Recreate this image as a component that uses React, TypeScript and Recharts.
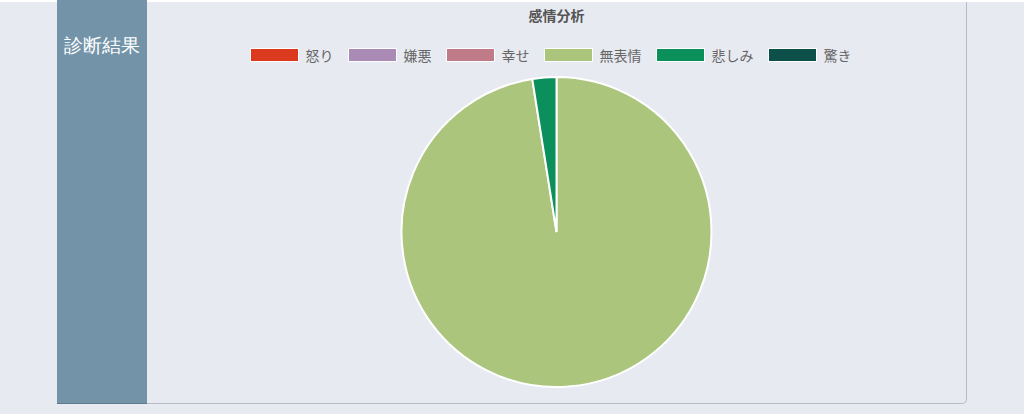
import React from 'react';
import { PieChart, Pie, Cell } from 'recharts';

// 感情分析 data
const emotions = ['怒り', '嫌悪', '幸せ', '無表情', '悲しみ', '驚き'];
const shares = [0, 0, 0, 97.5, 2.5, 0];
const colors = ['#dc3a1e', '#a98bb5', '#c07b89', '#abc57c', '#0b8f5b', '#0d504a'];

const data = emotions.map((name, i) => ({ name, value: shares[i] }));

const FONT = '"Noto Sans CJK JP", "Noto Sans", sans-serif';

const LegendRow: React.FC = () => (
    <div
        style={{
            position: 'absolute',
            left: 0,
            top: 45,
            width: 819,
            display: 'flex',
            justifyContent: 'center',
            paddingRight: 12,
            boxSizing: 'border-box',
            fontFamily: FONT,
        }}
    >
        {emotions.map((name, i) => (
            <div key={name} style={{ display: 'flex', alignItems: 'center', marginRight: i < emotions.length - 1 ? 14 : 0 }}>
                <span
                    style={{
                        display: 'inline-block',
                        width: 47,
                        height: 12,
                        background: colors[i],
                        border: '1px solid #ffffff',
                        marginRight: 7,
                    }}
                />
                <span style={{ fontSize: 14, color: '#666666', lineHeight: '16px' }}>{name}</span>
            </div>
        ))}
    </div>
);

const App: React.FC = () => {
    return (
        <div style={{ position: 'absolute', left: 0, top: 0, width: 1024, height: 414, background: '#e8eaf1', overflow: 'hidden' }}>
            <div style={{ position: 'absolute', left: 0, top: 0, width: 1024, height: 2, background: '#ffffff' }} />
            <div
                style={{
                    position: 'absolute',
                    left: 57,
                    top: 0,
                    width: 90,
                    height: 404,
                    background: '#7393a8',
                    borderBottom: '1px solid #5f7a8c',
                    boxSizing: 'border-box',
                }}
            >
                <div
                    style={{
                        position: 'absolute',
                        left: 0,
                        top: 33,
                        width: 90,
                        textAlign: 'center',
                        color: '#ffffff',
                        fontSize: 19,
                        fontFamily: 'serif',
                        lineHeight: '26px',
                    }}
                >
                    診断結果
                </div>
            </div>
            <div
                style={{
                    position: 'absolute',
                    left: 147,
                    top: 2,
                    width: 820,
                    height: 402,
                    background: '#e8eaf1',
                    borderRight: '1px solid #b6bbc8',
                    borderBottom: '1px solid #b6bbc8',
                    borderBottomRightRadius: 5,
                    boxSizing: 'border-box',
                }}
            >
                <div
                    style={{
                        position: 'absolute',
                        left: 0,
                        top: 4,
                        width: 819,
                        textAlign: 'center',
                        fontFamily: FONT,
                        fontWeight: 'bold',
                        fontSize: 14,
                        color: '#555555',
                        lineHeight: '18px',
                    }}
                >
                    感情分析
                </div>
                <LegendRow />
                <div style={{ position: 'absolute', left: 0, top: -2 }}>
                    <PieChart width={819} height={403} margin={{ top: 0, right: 0, bottom: 0, left: 0 }}>
                        <Pie
                            data={data}
                            dataKey="value"
                            nameKey="name"
                            cx={409.5}
                            cy={232}
                            outerRadius={155}
                            startAngle={90}
                            endAngle={-270}
                            stroke="#ffffff"
                            strokeWidth={2}
                            isAnimationActive={false}
                        >
                            {data.map((entry, i) => (
                                <Cell key={entry.name} fill={colors[i]} />
                            ))}
                        </Pie>
                    </PieChart>
                </div>
            </div>
        </div>
    );
};

export default App;
